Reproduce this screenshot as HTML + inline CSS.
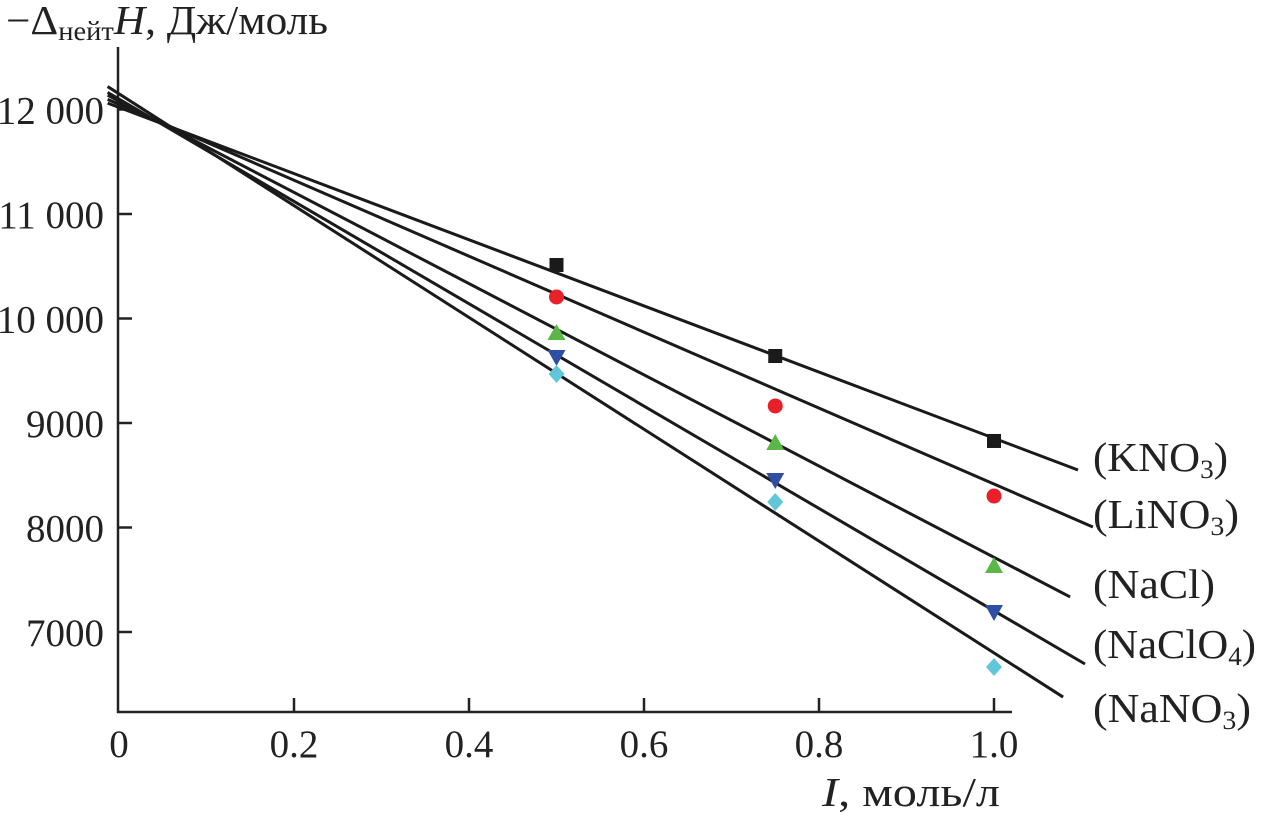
<!DOCTYPE html>
<html><head><meta charset="utf-8"><style>
html,body{margin:0;padding:0;background:#fff;}
svg{display:block;font-family:"Liberation Serif",serif;}
</style></head><body>
<svg id="chart" width="1261" height="817" viewBox="0 0 1261 817">
<g id="axes"></g><g id="lines"></g><g id="marks"></g><g id="labels"></g>
</svg>
<script>
const xTicks=[0,0.2,0.4,0.6,0.8,1.0];
const xTickLabels=["0","0.2","0.4","0.6","0.8","1.0"];
const yTicks=[7000,8000,9000,10000,11000,12000];
const yTickLabels=["7000","8000","9000","10 000","11 000","12 000"];
const seriesNames=["KNO3","LiNO3","NaCl","NaClO4","NaNO3"];
const xPoints=[0.5,0.75,1.0];
const valsKNO3=[10512,9641,8828];
const valsLiNO3=[10206,9163,8301];
const valsNaCl=[9861,8809,7632];
const valsNaClO4=[9632,8455,7191];
const valsNaNO3=[9469,8244,6665];
const intercepts=[12020,12050,12080,12100,12150];
const slopes=[-3166,-3634,-4365,-4897,-5350];
const lineEnds=[1.096,1.113,1.087,1.104,1.079];
const colors=["#1a1a1a","#e8202a","#5cb846","#2e4fa3","#62c6da"];
const shapes=["square","circle","tri","tridown","diamond"];

const NS="http://www.w3.org/2000/svg";
function X(v){return 119+v*875;}
function Y(v){return 109.5+(12000-v)*0.1045;}
function el(tag,attrs,parent,txt){const e=document.createElementNS(NS,tag);for(const k in attrs)e.setAttribute(k,attrs[k]);if(txt!==undefined)e.textContent=txt;parent.appendChild(e);return e;}
const axes=document.getElementById('axes'),lines=document.getElementById('lines'),marks=document.getElementById('marks'),labels=document.getElementById('labels');

let a=el('line',{x1:118,y1:47,x2:118,y2:713,stroke:'#222','stroke-width':2.5},axes);


a=el('line',{x1:117,y1:712,x2:1012,y2:712,stroke:'#222','stroke-width':2.5},axes);


xTicks.forEach((t,i)=>{
  if(i>0){const tk=el('line',{x1:X(t),y1:712,x2:X(t),y2:698,stroke:'#222','stroke-width':2.5},axes);
  
  }
  const tl=el('text',{x:X(t),y:757,'font-size':39,'text-anchor':'middle',fill:'#222'},axes,xTickLabels[i]);
  
  
});
yTicks.forEach((t,i)=>{
  const tk=el('line',{x1:118,y1:Y(t),x2:132,y2:Y(t),stroke:'#222','stroke-width':2.5},axes);
  
  
  const tl=el('text',{x:104,y:Y(t)+14,'font-size':39,'text-anchor':'end',fill:'#222'},axes,yTickLabels[i]);
  
  
});
let t=el('text',{x:6,y:34,'font-size':41,fill:'#222',textLength:322,lengthAdjust:'spacingAndGlyphs'},labels);


t.innerHTML='−Δ<tspan font-size="27" dy="6">нейт</tspan><tspan dy="-6" font-style="italic">H</tspan>, Дж/моль';
t=el('text',{x:1000,y:806,'font-size':41,'text-anchor':'end',fill:'#222',textLength:178,lengthAdjust:'spacingAndGlyphs'},labels);


t.innerHTML='<tspan font-style="italic">I</tspan>, моль/л';

const allVals=[valsKNO3,valsLiNO3,valsNaCl,valsNaClO4,valsNaNO3];
const labelY=[471,528,598,658,722];
const labelLen=[135,146,122,163,158];
const labelText=[['KNO','3',''],['LiNO','3',''],['NaCl','',''],['NaClO','4',''],['NaNO','3','']];
seriesNames.forEach((n,i)=>{
  const x0=-0.013,x1=lineEnds[i];
  const ln=el('line',{x1:X(x0),y1:Y(intercepts[i]+slopes[i]*x0),x2:X(x1),y2:Y(intercepts[i]+slopes[i]*x1),stroke:'#1a1a1a','stroke-width':3},lines);
  
  
  allVals[i].forEach((v,j)=>{
    const cx=X(xPoints[j]),cy=Y(v);let m;
    if(shapes[i]==='square')m=el('rect',{x:cx-7,y:cy-7,width:14,height:14,fill:colors[i]},marks);
    else if(shapes[i]==='circle')m=el('circle',{cx:cx,cy:cy,r:7.5,fill:colors[i]},marks);
    else if(shapes[i]==='tri')m=el('polygon',{points:`${cx},${cy-9} ${cx-9},${cy+7} ${cx+9},${cy+7}`,fill:colors[i]},marks);
    else if(shapes[i]==='tridown')m=el('polygon',{points:`${cx},${cy+9} ${cx-9},${cy-7} ${cx+9},${cy-7}`,fill:colors[i]},marks);
    else m=el('polygon',{points:`${cx},${cy-9} ${cx+8},${cy} ${cx},${cy+9} ${cx-8},${cy}`,fill:colors[i]},marks);
    
    
  });
  const lt=el('text',{x:1093,y:labelY[i],'font-size':41,fill:'#222',textLength:labelLen[i],lengthAdjust:'spacingAndGlyphs'},labels);
  
  
  const p=labelText[i];
  lt.innerHTML='('+p[0]+(p[1]?'<tspan font-size="26" dy="7">'+p[1]+'</tspan><tspan dy="-7">)</tspan>':')');
});
</script>
</body></html>
